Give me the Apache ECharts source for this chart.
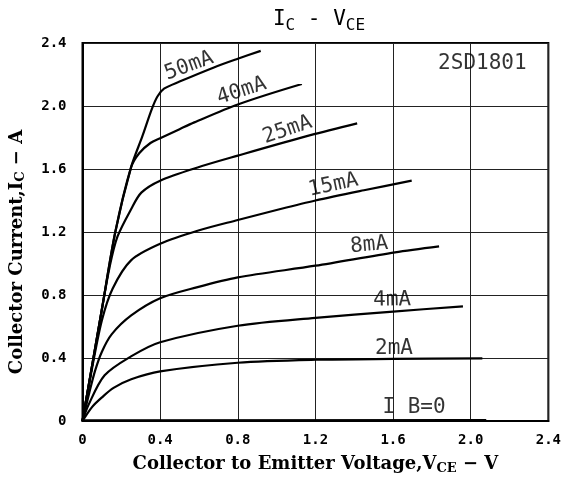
<!DOCTYPE html>
<html>
<head>
<meta charset="utf-8">
<script src="https://cdn.jsdelivr.net/npm/echarts@6/dist/echarts.min.js"></script>
<style>html,body{margin:0;padding:0;background:#fff;}#c{width:564px;height:480px;}</style>
</head>
<body>
<div id="c"></div>
<script>
// ---- data (V_CE in V, I_C in A) ----
const xTicks = [0, 0.4, 0.8, 1.2, 1.6, 2.0, 2.4];
const yTicks = [0, 0.4, 0.8, 1.2, 1.6, 2.0, 2.4];
const ib50 = [[0,0],[0.1,0.71],[0.169,1.2],[0.25,1.61],[0.309,1.81],[0.357,1.98],[0.386,2.06],[0.42,2.11],[0.5,2.155],[0.677,2.245],[0.8,2.30],[0.918,2.35]];
const ib40 = [[0,0],[0.1,0.71],[0.169,1.2],[0.25,1.61],[0.292,1.70],[0.35,1.765],[0.4,1.795],[0.5,1.853],[0.576,1.896],[0.8,2.01],[1.13,2.14]];
const ib25 = [[0,0],[0.1,0.71],[0.14,0.98],[0.18,1.17],[0.251,1.346],[0.303,1.45],[0.4,1.526],[0.593,1.61],[0.8,1.685],[1.174,1.815],[1.415,1.89]];
const ib15 = [[0,0],[0.05,0.34],[0.1,0.64],[0.155,0.84],[0.25,1.02],[0.4,1.125],[0.593,1.208],[0.8,1.276],[1.02,1.346],[1.2,1.40],[1.45,1.465],[1.696,1.526]];
const ib8  = [[0,0],[0.035,0.18],[0.065,0.32],[0.1,0.44],[0.15,0.55],[0.251,0.67],[0.4,0.779],[0.593,0.85],[0.8,0.912],[1.2,0.986],[1.61,1.071],[1.837,1.109]];
const ib4  = [[0,0],[0.03,0.1],[0.114,0.29],[0.25,0.41],[0.4,0.50],[0.8,0.605],[1.2,0.655],[1.6,0.695],[1.96,0.728]];
const ib2  = [[0,0],[0.05,0.09],[0.1,0.15],[0.16,0.21],[0.251,0.265],[0.4,0.315],[0.8,0.37],[1.2,0.389],[1.6,0.394],[2.06,0.397]];
const ib0  = [[0,0.004],[2.08,0.006]];
const seriesNames = ['50mA','40mA','25mA','15mA','8mA','4mA','2mA','I B=0'];
const seriesData = [ib50, ib40, ib25, ib15, ib8, ib4, ib2, ib0];
// curve label anchors (data units) and text angles
const labelAnchors = [[0.549,2.254],[0.82,2.095],[1.056,1.848],[1.292,1.498],[1.477,1.117],[1.595,0.768],[1.605,0.457],[1.708,0.083]];
const labelAngles = [20, 18, 19, 12, 5, 1, 0, 0];
const partName = '2SD1801';
const partAnchor = [2.06, 2.27];

const chart = echarts.init(document.getElementById('c'), null, {renderer: 'canvas'});
const mono = '"DejaVu Sans Mono", "Liberation Mono", monospace';
const serif = '"DejaVu Serif", "Liberation Serif", serif';

const lineSeries = seriesData.map((d, i) => ({
  name: seriesNames[i],
  type: 'line',
  data: d,
  showSymbol: false,
  symbol: 'none',
  smooth: 0.3,
  lineStyle: {color: '#000', width: 2.2},
  z: 5,
  silent: true
}));

const labelItems = seriesNames.map((n, i) => ({
  value: labelAnchors[i],
  label: {show: true, formatter: n, rotate: labelAngles[i]}
}));
labelItems.push({value: partAnchor, label: {show: true, formatter: partName, rotate: 0, fontSize: 21}});

const option = {
  backgroundColor: '#fff',
  animation: false,
  title: {
    text: '{a|I}{s|C}{a| - V}{s|CE}',
    left: 314, top: 4, textAlign: 'center',
    textStyle: {
      fontWeight: 'normal',
      rich: {
        a: {fontFamily: mono, fontWeight: 'normal', fontSize: 21, color: '#000', verticalAlign: 'bottom'},
        s: {fontFamily: mono, fontWeight: 'normal', fontSize: 16, color: '#000', verticalAlign: 'bottom', padding: [0,0,-4,0]}
      }
    }
  },
  grid: {left: 81, right: 14, top: 43, bottom: 58, show: true, borderColor: '#000', borderWidth: 2, containLabel: false},
  xAxis: {
    type: 'value', min: 0, max: 2.4, interval: 0.4,
    name: '{t|Collector to Emitter Voltage,V}{s|CE}{t| − V}',
    nameLocation: 'middle', nameGap: 33,
    nameTextStyle: {rich: {
      t: {fontFamily: serif, fontWeight: 'bold', fontSize: 18, color: '#000'},
      s: {fontFamily: serif, fontWeight: 'bold', fontSize: 13, color: '#000', padding: [8,0,0,0]}
    }},
    axisLine: {show: true, lineStyle: {color: '#000', width: 2}},
    axisTick: {show: false},
    axisLabel: {margin: 12, fontFamily: mono, fontWeight: 'bold', fontSize: 14, color: '#000',
      formatter: v => (xTicks.indexOf(+v.toFixed(1)) >= 0 ? (v === 0 ? '0' : v.toFixed(1)) : '')},
    splitLine: {show: true, lineStyle: {color: '#222', width: 1}}
  },
  yAxis: {
    type: 'value', min: 0, max: 2.4, interval: 0.4,
    name: '{t|Collector Current,I}{s|C}{t| − A}',
    nameLocation: 'middle', nameGap: 55, nameRotate: 90,
    nameTextStyle: {padding: [0, 40, 0, 0], rich: {
      t: {fontFamily: serif, fontWeight: 'bold', fontSize: 18, color: '#000'},
      s: {fontFamily: serif, fontWeight: 'bold', fontSize: 13, color: '#000', padding: [8,0,0,0]}
    }},
    axisLine: {show: true, lineStyle: {color: '#000', width: 2}},
    axisTick: {show: false},
    axisLabel: {margin: 16, fontFamily: mono, fontWeight: 'bold', fontSize: 14, color: '#000',
      formatter: v => (yTicks.indexOf(+v.toFixed(1)) >= 0 ? (v === 0 ? '0' : v.toFixed(1)) : '')},
    splitLine: {show: true, lineStyle: {color: '#222', width: 1}}
  },
  series: lineSeries.concat([{
    type: 'scatter',
    name: 'labels',
    symbolSize: 0,
    data: labelItems,
    silent: true,
    z: 6,
    label: {show: true, position: 'inside', fontFamily: mono, fontSize: 21, color: '#000'}
  }])
};
chart.setOption(option);
</script>
</body>
</html>
